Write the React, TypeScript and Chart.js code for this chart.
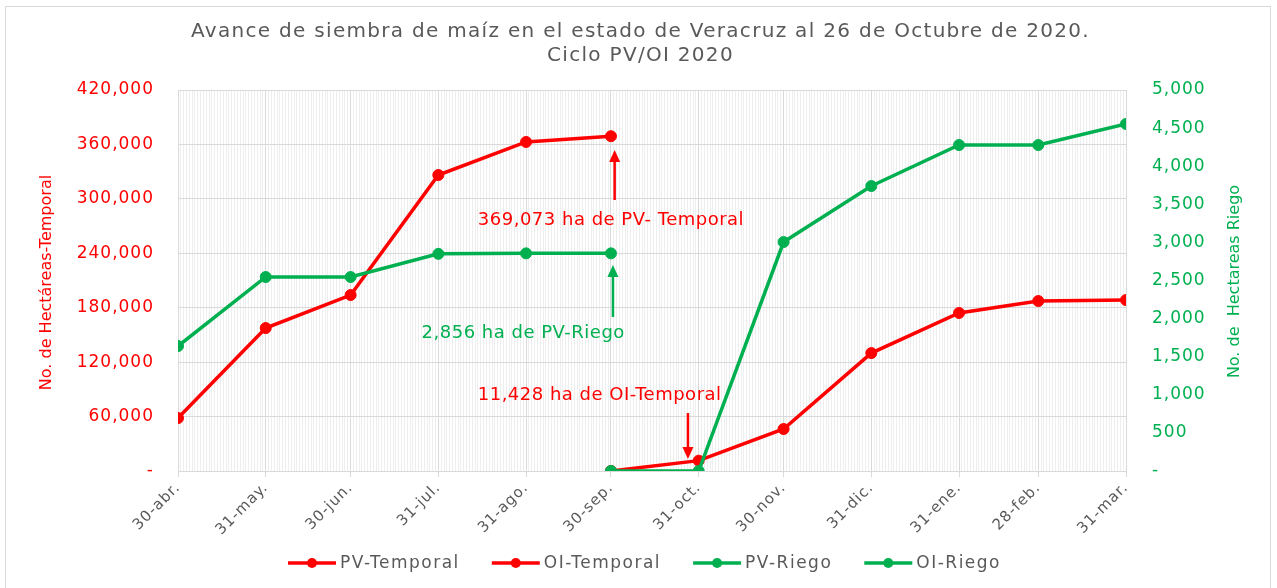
import React, { useEffect, useRef } from "react";
import { Chart, registerables } from "chart.js";

Chart.register(...registerables);

// ---------- data ----------
const categories = [
  "30-abr.", "31-may.", "30-jun.", "31-jul.", "31-ago.", "30-sep.",
  "31-oct.", "30-nov.", "31-dic.", "31-ene.", "28-feb.", "31-mar.",
];
// days elapsed since 30-abr-2020 for each category (date axis)
const categoryDays = [0, 31, 61, 92, 123, 153, 184, 214, 245, 276, 304, 335];

const seriesNames = ["PV-Temporal", "OI-Temporal", "PV-Riego", "OI-Riego"];

// PV-Temporal: 30-abr .. 30-sep
const pvTemporal = [58400, 157600, 194000, 326300, 362700, 369073];
// OI-Temporal: 30-sep .. 31-mar
const oiTemporal = [0, 11428, 46300, 130000, 174200, 187400, 188500];
// PV-Riego: 30-abr .. 30-sep
const pvRiego = [1640, 2546, 2546, 2850, 2856, 2856];
// OI-Riego: 30-sep .. 31-mar
const oiRiego = [0, 0, 3005, 3740, 4278, 4278, 4554];

const leftTicks = { min: 0, max: 420000, step: 60000 };
const rightTicks = { min: 0, max: 5000, step: 500 };

const titleLines = [
  "Avance de siembra de maíz en el estado de Veracruz al 26 de Octubre de 2020.",
  "Ciclo PV/OI 2020",
];
const leftAxisTitle = "No. de Hectáreas-Temporal";
const rightAxisTitle = "No. de  Hectareas Riego";

// annotations in data units (x: days, y: left-axis hectares)
const annotationTexts = [
  { text: "369,073 ha de PV- Temporal", x: 153, y: 276700, color: "red" },
  { text: "2,856 ha de PV-Riego", x: 122, y: 152100, color: "green" },
  { text: "11,428 ha de OI-Temporal", x: 149, y: 83800, color: "red" },
];
const annotationArrows = [
  { x: 154.3, yFrom: 298700, yTo: 353900, color: "red" },
  { x: 153.7, yFrom: 169800, yTo: 227100, color: "green" },
  { x: 180.2, yFrom: 63900, yTo: 13200, color: "red" },
];

// ---------- style ----------
const RED = "#FF0000";
const GREEN = "#00B050";
const GRAY = "#595959";
const FONT = "'DejaVu Sans', sans-serif";
const colorOf = (c: string) => (c === "red" ? RED : GREEN);

const W = 1277;
const H = 588;

const fmt = (v: number) => (v === 0 ? "-" : v.toLocaleString("en-US"));

const toPoints = (startIdx: number, vals: number[]) =>
  vals.map((v, i) => ({ x: categoryDays[startIdx + i], y: v }));

const overlayPlugin = {
  id: "overlay",
  beforeDraw(chart: any) {
    chart.ctx.letterSpacing = "1px";
  },
  afterDatasetsDraw(chart: any) {
    const ctx = chart.ctx;
    const xs = chart.scales.x;
    const ys = chart.scales.y;
    ctx.save();
    // annotation texts
    ctx.font = `18px ${FONT}`;
    ctx.letterSpacing = "0.5px";
    ctx.textAlign = "center";
    ctx.textBaseline = "middle";
    annotationTexts.forEach((a) => {
      ctx.fillStyle = colorOf(a.color);
      ctx.fillText(a.text, xs.getPixelForValue(a.x), ys.getPixelForValue(a.y));
    });
    // arrows
    annotationArrows.forEach((a) => {
      const x = xs.getPixelForValue(a.x);
      const y0 = ys.getPixelForValue(a.yFrom);
      const y1 = ys.getPixelForValue(a.yTo);
      const dir = y1 < y0 ? -1 : 1;
      const head = 12;
      ctx.strokeStyle = colorOf(a.color);
      ctx.fillStyle = colorOf(a.color);
      ctx.lineWidth = 2.5;
      ctx.beginPath();
      ctx.moveTo(x, y0);
      ctx.lineTo(x, y1 - dir * head);
      ctx.stroke();
      ctx.beginPath();
      ctx.moveTo(x, y1);
      ctx.lineTo(x - 5.5, y1 - dir * head);
      ctx.lineTo(x + 5.5, y1 - dir * head);
      ctx.closePath();
      ctx.fill();
    });
    ctx.restore();
  },
  afterDraw(chart: any) {
    const ctx = chart.ctx;
    const area = chart.chartArea;
    const midY = (area.top + area.bottom) / 2;
    ctx.save();
    // title
    ctx.fillStyle = GRAY;
    ctx.font = `20px ${FONT}`;
    ctx.letterSpacing = "1.3px";
    ctx.textAlign = "center";
    ctx.textBaseline = "middle";
    ctx.fillText(titleLines[0], W / 2 + 2, 32);
    ctx.fillText(titleLines[1], W / 2 + 2, 56);

    // axis titles (both read bottom to top)
    ctx.letterSpacing = "0px";
    ctx.font = `16px ${FONT}`;
    ctx.save();
    ctx.translate(47, midY + 2);
    ctx.rotate(-Math.PI / 2);
    ctx.fillStyle = RED;
    ctx.fillText(leftAxisTitle, 0, 0);
    ctx.restore();

    ctx.save();
    ctx.translate(1235, midY + 1);
    ctx.rotate(-Math.PI / 2);
    ctx.fillStyle = GREEN;
    ctx.fillText(rightAxisTitle, 0, 0);
    ctx.restore();

    // legend
    ctx.font = `17px ${FONT}`;
    ctx.letterSpacing = "1.5px";
    ctx.textBaseline = "middle";
    ctx.textAlign = "left";
    const lineLen = 48;
    const gapText = 4;
    const gapItem = 32;
    const items = chart.data.datasets.map((d: any) => ({
      label: d.label,
      color: d.borderColor,
      w: lineLen + gapText + ctx.measureText(d.label).width,
    }));
    const total = items.reduce((s: number, it: any) => s + it.w, 0) + gapItem * (items.length - 1);
    let x = (area.left + area.right) / 2 - 7.5 - total / 2;
    const y = 563;
    items.forEach((it: any) => {
      ctx.strokeStyle = it.color;
      ctx.fillStyle = it.color;
      ctx.lineWidth = 3.5;
      ctx.beginPath();
      ctx.moveTo(x, y);
      ctx.lineTo(x + lineLen, y);
      ctx.stroke();
      ctx.beginPath();
      ctx.arc(x + lineLen / 2, y, 5, 0, Math.PI * 2);
      ctx.fill();
      ctx.fillStyle = GRAY;
      ctx.fillText(it.label, x + lineLen + gapText, y + 1);
      x += it.w + gapItem;
    });
    ctx.restore();
  },
};

export default function App() {
  const ref = useRef<HTMLCanvasElement | null>(null);

  useEffect(() => {
    if (!ref.current) return;
    const mk = (label: string, color: string, data: any[], order: number) => ({
      label,
      data,
      borderColor: color,
      backgroundColor: color,
      pointBackgroundColor: color,
      pointBorderColor: color,
      pointRadius: 5.5,
      pointBorderWidth: 1,
      pointHoverRadius: 5.5,
      borderWidth: 3.5,
      tension: 0,
      order,
    });
    const chart = new Chart(ref.current, {
      type: "line",
      data: {
        datasets: [
          { ...mk(seriesNames[0], RED, toPoints(0, pvTemporal), 4), yAxisID: "y" },
          { ...mk(seriesNames[1], RED, toPoints(5, oiTemporal), 3), yAxisID: "y" },
          { ...mk(seriesNames[2], GREEN, toPoints(0, pvRiego), 2), yAxisID: "y1" },
          { ...mk(seriesNames[3], GREEN, toPoints(5, oiRiego), 1), yAxisID: "y1" },
        ],
      },
      options: {
        responsive: false,
        maintainAspectRatio: false,
        animation: false,
        layout: { padding: { top: 90, left: 0, right: 0, bottom: 0 } },
        plugins: {
          legend: { display: false },
          title: { display: false },
          tooltip: { enabled: false },
        },
        scales: {
          xMinor: {
            type: "linear",
            position: "bottom",
            min: categoryDays[0],
            max: categoryDays[categoryDays.length - 1],
            ticks: { display: false, stepSize: 1 },
            grid: { color: "#EEEEEE", drawTicks: false, z: -2 },
            border: { display: false },
            afterFit: (s: any) => { s.height = 0; },
          },
          x: {
            type: "linear",
            position: "bottom",
            min: categoryDays[0],
            max: categoryDays[categoryDays.length - 1],
            afterBuildTicks: (s: any) => {
              s.ticks = categoryDays.map((v) => ({ value: v }));
            },
            ticks: {
              autoSkip: false,
              minRotation: 45,
              maxRotation: 45,
              color: GRAY,
              font: { family: FONT, size: 15 },
              padding: 2,
              callback: (_v: any, i: number) => categories[i],
            },
            grid: { color: "#D9D9D9", tickLength: 6, tickColor: "#D9D9D9", lineWidth: 1 },
            border: { color: "#D9D9D9" },
            afterFit: (s: any) => { s.height = 117; },
          },
          y: {
            type: "linear",
            position: "left",
            min: leftTicks.min,
            max: leftTicks.max,
            ticks: {
              stepSize: leftTicks.step,
              color: RED,
              font: { family: FONT, size: 17 },
              padding: 24,
              callback: (v: any) => fmt(Number(v)),
            },
            grid: { color: "#D9D9D9", drawTicks: false },
            border: { display: false },
            afterFit: (s: any) => { s.width = 178; },
          },
          y1: {
            type: "linear",
            position: "right",
            min: rightTicks.min,
            max: rightTicks.max,
            ticks: {
              stepSize: rightTicks.step,
              color: GREEN,
              font: { family: FONT, size: 17 },
              padding: 26,
              callback: (v: any) => fmt(Number(v)),
            },
            grid: { drawOnChartArea: false, drawTicks: false },
            border: { display: false },
            afterFit: (s: any) => { s.width = W - 1126; },
          },
        },
      },
      plugins: [overlayPlugin],
    } as any);
    return () => chart.destroy();
  }, []);

  return (
    <div style={{ position: "fixed", left: 0, top: 0, width: W, height: H, background: "#fff" }}>
      <div
        style={{
          position: "absolute",
          left: 5,
          top: 6,
          width: 1266,
          height: 600,
          border: "1px solid #D9D9D9",
          boxSizing: "border-box",
        }}
      />
      <canvas
        ref={ref}
        width={W}
        height={H}
        style={{ position: "absolute", left: 0, top: 0, width: W, height: H }}
      />
    </div>
  );
}
